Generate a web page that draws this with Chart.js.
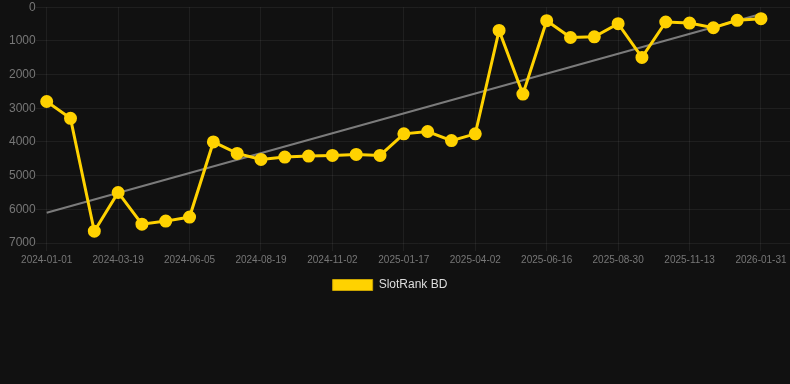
<!DOCTYPE html>
<html>
<head>
<meta charset="utf-8">
<script src="https://cdn.jsdelivr.net/npm/chart.js@4"></script>
<style>
  html, body { margin: 0; padding: 0; background: #111111; }
  #wrap { width: 790px; height: 384px; position: relative; }
</style>
</head>
<body>
<div id="wrap"><canvas id="c"></canvas></div>
<script>
const dateLabels = [
  "2024-01-01","2024-01-27","2024-02-22","2024-03-19","2024-04-14","2024-05-10",
  "2024-06-05","2024-06-30","2024-07-25","2024-08-19","2024-09-13","2024-10-08",
  "2024-11-02","2024-11-27","2024-12-23","2025-01-17","2025-02-11","2025-03-08",
  "2025-04-02","2025-04-27","2025-05-22","2025-06-16","2025-07-11","2025-08-05",
  "2025-08-30","2025-09-24","2025-10-19","2025-11-13","2025-12-08","2026-01-05",
  "2026-01-31"
];
const rankValues = [
  2800, 3300, 6650, 5500, 6440, 6350,
  6230, 4000, 4340, 4520, 4450, 4420,
  4400, 4370, 4400, 3760, 3690, 3960,
  3760, 690, 2580, 400, 900, 880,
  490, 1490, 440, 470, 610, 390,
  340
];
const trendStart = 6100;
const trendEnd = 200;
const yTicks = [0, 1000, 2000, 3000, 4000, 5000, 6000, 7000];
const seriesName = "SlotRank BD";

const lastIdx = dateLabels.length - 1;
const mainData = rankValues.map((v, i) => ({ x: i, y: v }));
const trendData = [{ x: 0, y: trendStart }, { x: lastIdx, y: trendEnd }];

const FONT = 'Liberation Sans, Arial, sans-serif';

const chart = new Chart(document.getElementById('c'), {
  type: 'line',
  data: {
    datasets: [
      {
        label: seriesName,
        data: mainData,
        borderColor: '#FFD200',
        backgroundColor: '#FFD200',
        borderWidth: 3,
        pointRadius: 5,
        pointHoverRadius: 5,
        pointBackgroundColor: '#FFD200',
        pointBorderColor: '#FFD200',
        tension: 0,
        clip: false,
        order: 1
      },
      {
        label: 'trend',
        data: trendData,
        borderColor: 'rgba(150,150,150,0.8)',
        borderWidth: 2,
        pointRadius: 0,
        tension: 0,
        clip: false,
        order: 2
      }
    ]
  },
  options: {
    responsive: true,
    maintainAspectRatio: false,
    animation: false,
    layout: { autoPadding: false, padding: { top: 0, right: 0, bottom: 83, left: 0 } },
    plugins: {
      tooltip: { enabled: false },
      legend: {
        position: 'bottom',
        labels: {
          color: '#dddddd',
          font: { family: FONT, size: 12 },
          boxWidth: 40,
          boxHeight: 11,
          filter: (item) => item.text !== 'trend',
          generateLabels: (c) => Chart.defaults.plugins.legend.labels.generateLabels(c)
            .map(it => Object.assign(it, { lineWidth: 1, strokeStyle: '#c9a400' }))
        }
      }
    },
    scales: {
      x: {
        type: 'linear',
        min: 0,
        max: lastIdx * (790 - 47) / (761 - 47),
        grid: { color: 'rgba(255,255,255,0.06)', tickLength: 8 },
        border: { display: false },
        ticks: {
          stepSize: 3,
          includeBounds: false,
          autoSkip: false,
          maxRotation: 0,
          color: '#777777',
          font: { family: FONT, size: 10 },
          callback: (v) => (Number.isInteger(v) && dateLabels[v]) ? dateLabels[v] : ''
        }
      },
      y: {
        reverse: true,
        min: 0,
        max: 7000,
        afterBuildTicks: (axis) => { axis.ticks = yTicks.map(v => ({ value: v })); },
        afterFit: (axis) => { axis.width += 9; },
        grid: { color: 'rgba(255,255,255,0.06)', tickLength: 11 },
        border: { display: false },
        ticks: {
          color: '#777777',
          font: { family: FONT, size: 12 },
          padding: 0,
          callback: (v) => String(v)
        }
      }
    }
  }
});

// nudge the legend slightly left to match the reference placement
const origLegendDraw = chart.legend.draw.bind(chart.legend);
chart.legend.draw = function (area) {
  const ctx = this.ctx;
  ctx.save();
  ctx.translate(-5, 0);
  origLegendDraw(area);
  ctx.restore();
};
chart.draw();
</script>
</body>
</html>
